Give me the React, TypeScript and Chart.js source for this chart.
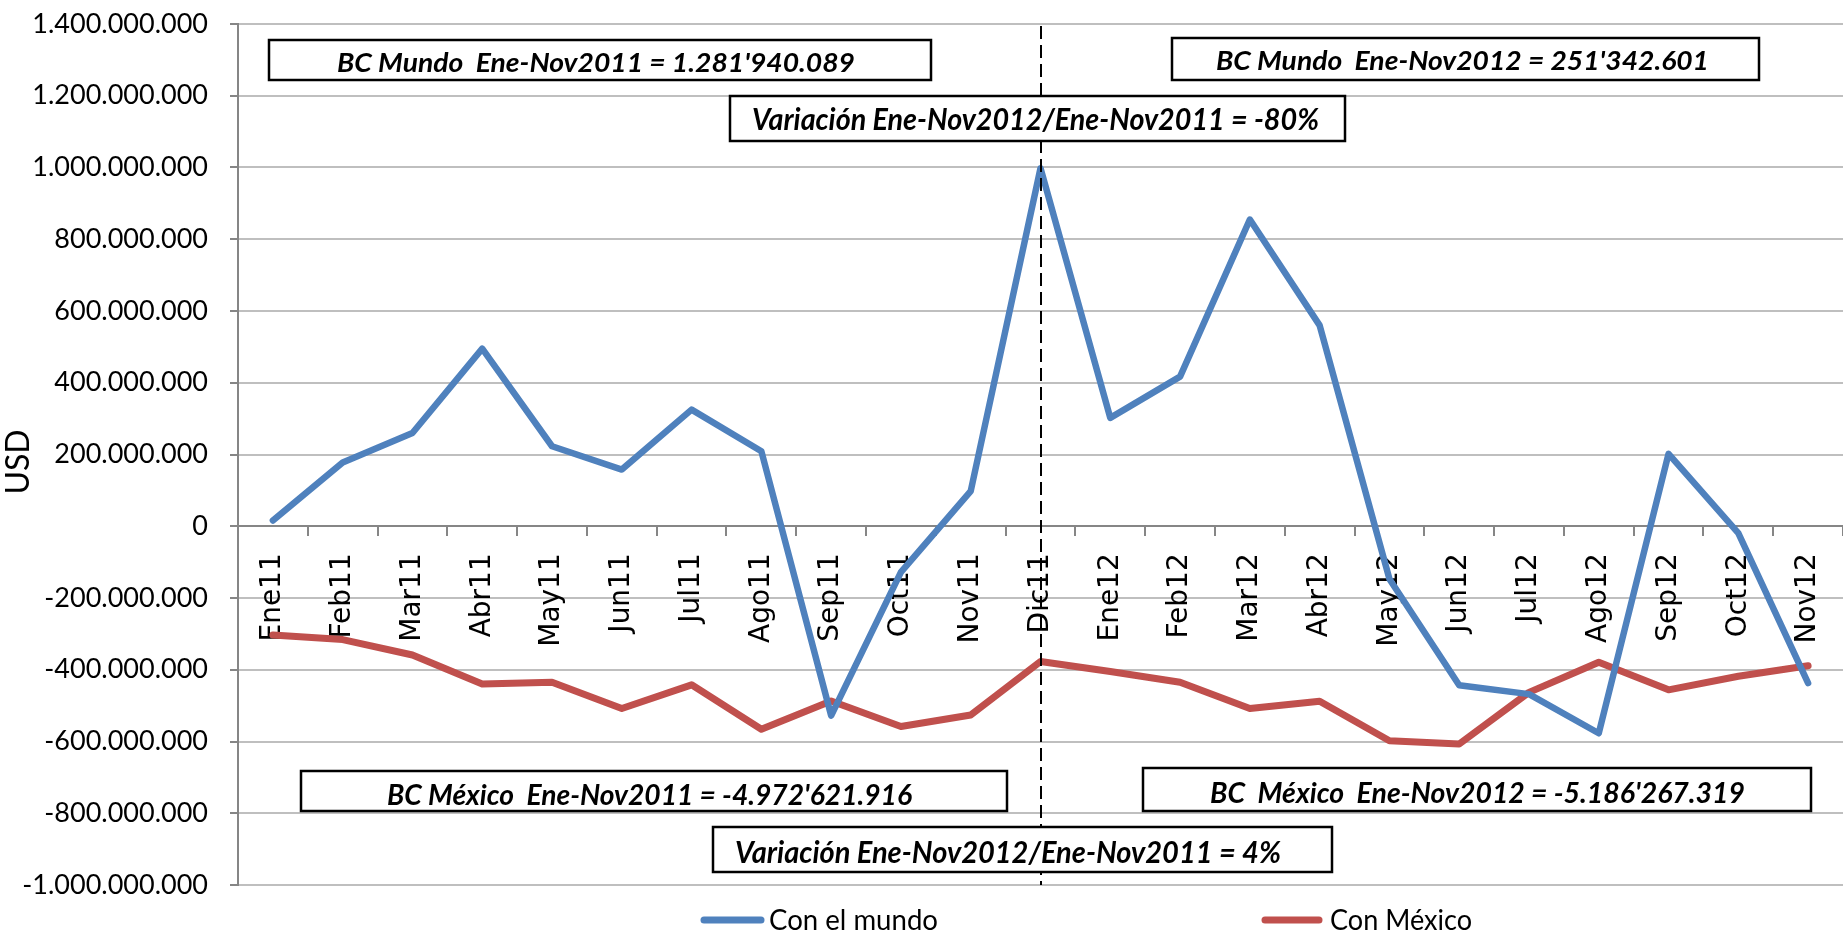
import React, { useEffect, useRef } from 'react';
import { Chart, registerables } from 'chart.js';

Chart.register(...registerables);

// ---------- data ----------
const categories = [
  'Ene11', 'Feb11', 'Mar11', 'Abr11', 'May11', 'Jun11', 'Jul11', 'Ago11', 'Sep11', 'Oct11', 'Nov11', 'Dic11',
  'Ene12', 'Feb12', 'Mar12', 'Abr12', 'May12', 'Jun12', 'Jul12', 'Ago12', 'Sep12', 'Oct12', 'Nov12',
];

const conElMundo = [
  16000000, 178000000, 260000000, 495000000, 223000000, 158000000, 325000000, 209000000,
  -528000000, -128000000, 98000000, 998000000, 302000000, 417000000, 855000000, 560000000,
  -147000000, -443000000, -468000000, -577000000, 202000000, -19000000, -437000000,
];

const conMexico = [
  -303000000, -316000000, -359000000, -440000000, -435000000, -508000000, -442000000, -566000000,
  -487000000, -558000000, -526000000, -377000000, -405000000, -435000000, -508000000, -488000000,
  -598000000, -607000000, -463000000, -379000000, -456000000, -418000000, -389000000,
];

const seriesLabels = ['Con el mundo', 'Con México'];
const yMin = -1000000000;
const yMax = 1400000000;
const yStep = 200000000;
const yAxisTitle = 'USD';
const dividerCategory = 'Dic11';

const annotationTexts = [
  "BC Mundo  Ene-Nov2011 = 1.281'940.089",
  "BC Mundo  Ene-Nov2012 = 251'342.601",
  'Variación Ene-Nov2012/Ene-Nov2011 = -80%',
  "BC México  Ene-Nov2011 = -4.972'621.916",
  "BC  México  Ene-Nov2012 = -5.186'267.319",
  'Variación Ene-Nov2012/Ene-Nov2011 = 4%',
];

// ---------- layout / style (not data) ----------
const W = 1843;
const H = 936;
const BLUE = '#4F81BD';
const RED = '#C0504D';
const AXIS_GRAY = '#868686';
const GRID_GRAY = '#BFBFBF';

const boxLayout = [
  { x: 269, y: 40, w: 662, h: 40, tx: 337, base: 72, tw: 518, size: 27 },
  { x: 1172, y: 38, w: 587, h: 42, tx: 1216, base: 70, tw: 493, size: 27 },
  { x: 730, y: 96, w: 615, h: 45, tx: 752, base: 130, tw: 567, size: 31 },
  { x: 301, y: 771, w: 706, h: 40, tx: 387, base: 805, tw: 525, size: 28 },
  { x: 1143, y: 768, w: 668, h: 43, tx: 1210, base: 803, tw: 535, size: 28 },
  { x: 713, y: 827, w: 619, h: 45, tx: 735, base: 863, tw: 546, size: 31 },
];

const legendLayout = [
  { x1: 701, x2: 764, tx: 769, tw: 169 },
  { x1: 1262, x2: 1322, tx: 1330, tw: 142 },
];

function fmt(v: number): string {
  const s = Math.abs(Math.round(v)).toString().replace(/\B(?=(\d{3})+(?!\d))/g, '.');
  return (v < 0 ? '-' : '') + s;
}

function fitText(ctx: CanvasRenderingContext2D, text: string, x: number, base: number, width: number, font: string) {
  ctx.save();
  ctx.font = font;
  ctx.textAlign = 'left';
  ctx.textBaseline = 'alphabetic';
  const m = ctx.measureText(text).width;
  ctx.translate(x, base);
  ctx.scale(width / m, 1);
  ctx.fillStyle = '#000';
  ctx.fillText(text, 0, 0);
  ctx.restore();
}

const overlayPlugin = {
  id: 'overlay',
  afterDatasetsDraw(chart: any) {
    const ctx: CanvasRenderingContext2D = chart.ctx;
    const { top, bottom } = chart.chartArea;
    const xs = chart.scales.x;
    const dx = Math.round(xs.getPixelForValue(categories.indexOf(dividerCategory)));
    ctx.save();
    ctx.strokeStyle = '#000';
    ctx.lineWidth = 2;
    ctx.setLineDash([13, 6]);
    ctx.beginPath();
    ctx.moveTo(dx, top + 2);
    ctx.lineTo(dx, bottom);
    ctx.stroke();
    ctx.restore();

    annotationTexts.forEach((t, i) => {
      const b = boxLayout[i];
      ctx.save();
      ctx.fillStyle = '#fff';
      ctx.fillRect(b.x, b.y, b.w, b.h);
      ctx.strokeStyle = '#000';
      ctx.lineWidth = 2.5;
      ctx.strokeRect(b.x, b.y, b.w, b.h);
      ctx.restore();
      fitText(ctx, t, b.tx, b.base, b.tw, `italic bold ${b.size}px Lato, "Open Sans", sans-serif`);
    });
  },
  afterDraw(chart: any) {
    const ctx: CanvasRenderingContext2D = chart.ctx;
    // y axis title
    ctx.save();
    ctx.translate(19, 462);
    ctx.rotate(-Math.PI / 2);
    ctx.font = '32px Lato, sans-serif';
    ctx.fillStyle = '#000';
    ctx.textAlign = 'center';
    ctx.textBaseline = 'middle';
    ctx.fillText(yAxisTitle, 0, 0);
    ctx.restore();

    // legend
    chart.data.datasets.forEach((ds: any, i: number) => {
      const L = legendLayout[i];
      ctx.save();
      ctx.strokeStyle = ds.borderColor;
      ctx.lineWidth = 7;
      ctx.lineCap = 'round';
      ctx.beginPath();
      ctx.moveTo(L.x1 + 3, 920);
      ctx.lineTo(L.x2 - 3, 920);
      ctx.stroke();
      ctx.restore();
      fitText(ctx, ds.label, L.tx, 930, L.tw, '28px Lato, sans-serif');
    });
  },
};

export default function App() {
  const ref = useRef<HTMLCanvasElement | null>(null);

  useEffect(() => {
    document.body.style.margin = '0';
    document.body.style.overflow = 'hidden';
    if (!ref.current) return;
    const chart = new Chart(ref.current, {
      type: 'line',
      data: {
        labels: categories,
        datasets: [
          {
            label: seriesLabels[0],
            data: conElMundo,
            borderColor: BLUE,
            backgroundColor: BLUE,
            borderWidth: 6.5,
            pointRadius: 0,
            tension: 0,
            borderJoinStyle: 'round',
            borderCapStyle: 'round',
            fill: false,
          },
          {
            label: seriesLabels[1],
            data: conMexico,
            borderColor: RED,
            backgroundColor: RED,
            borderWidth: 7,
            pointRadius: 0,
            tension: 0,
            borderJoinStyle: 'round',
            borderCapStyle: 'round',
            fill: false,
          },
        ],
      },
      options: {
        responsive: false,
        animation: false,
        devicePixelRatio: 1,
        layout: { padding: { top: 24, bottom: 51, left: 0, right: 0 } },
        plugins: {
          legend: { display: false },
          tooltip: { enabled: false },
        },
        scales: {
          x: {
            type: 'category',
            position: { y: 0 } as any,
            offset: true,
            grid: {
              display: true,
              drawOnChartArea: false,
              drawTicks: true,
              tickLength: 9,
              color: AXIS_GRAY,
              lineWidth: 2,
              offset: true,
            },
            border: { display: true, color: AXIS_GRAY, width: 2 },
            ticks: {
              autoSkip: false,
              maxRotation: 90,
              minRotation: 90,
              padding: 18,
              color: '#000',
              font: { family: '"DejaVu Sans", sans-serif', size: 28 },
            },
            afterFit: (s: any) => {
              s.height = 0;
              s.paddingLeft = 0;
              s.paddingRight = 0;
              s.paddingTop = 0;
              s.paddingBottom = 0;
            },
          },
          y: {
            min: yMin,
            max: yMax,
            ticks: {
              stepSize: yStep,
              padding: 22,
              color: '#000',
              font: { family: 'Lato, sans-serif', size: 27 },
              callback: (v: any) => fmt(Number(v)),
            },
            grid: {
              color: GRID_GRAY,
              lineWidth: 2,
              drawTicks: true,
              tickLength: 8,
              tickColor: AXIS_GRAY,
            },
            border: { display: true, color: AXIS_GRAY, width: 2 },
            afterFit: (s: any) => {
              s.width = 238;
              s.paddingTop = 0;
              s.paddingBottom = 0;
            },
          },
        },
      },
      plugins: [overlayPlugin],
    });
    return () => chart.destroy();
  }, []);

  return (
    <div style={{ width: W, height: H, background: '#fff' }}>
      <canvas ref={ref} width={W} height={H} style={{ display: 'block' }} />
    </div>
  );
}
